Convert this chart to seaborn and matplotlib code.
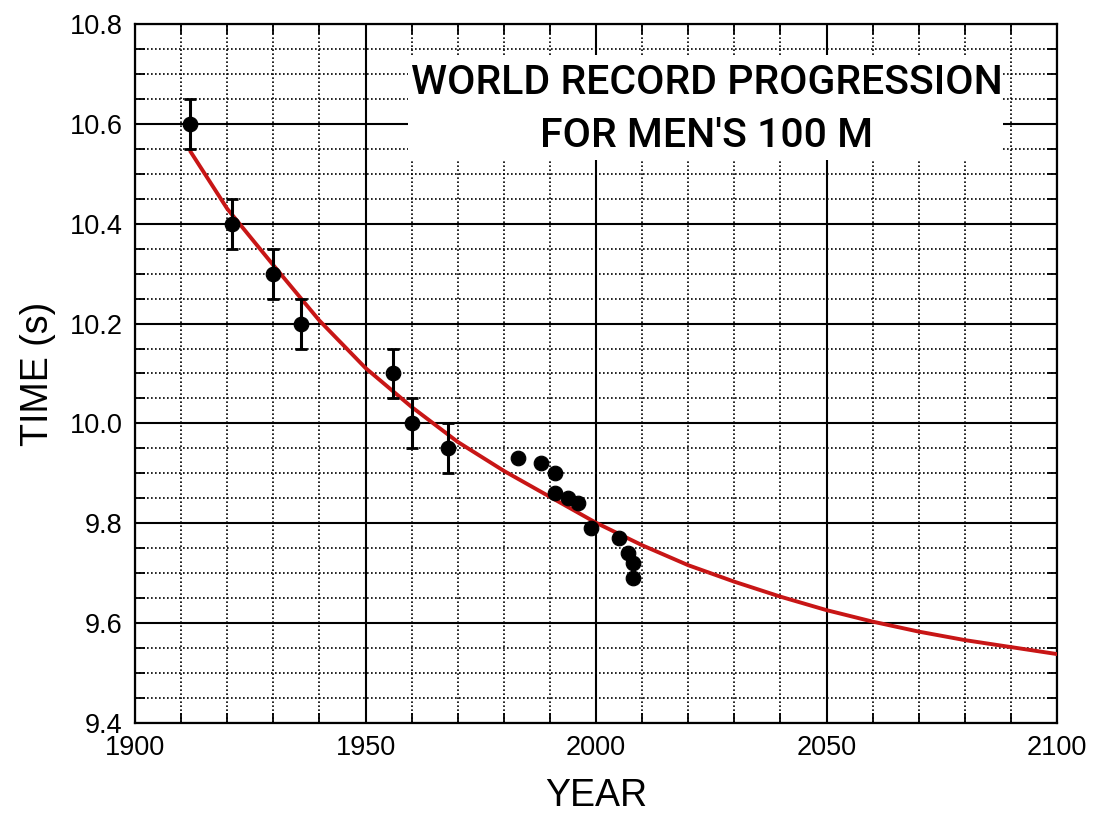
import seaborn as sns
import matplotlib.pyplot as plt
from matplotlib.ticker import MultipleLocator, FormatStrFormatter
from matplotlib.patches import Rectangle
import pandas as pd

# Record times with error bars (hand timed era)
early_years = [1912, 1921, 1930, 1936, 1956, 1960, 1968]
early_times = [10.60, 10.40, 10.30, 10.20, 10.10, 10.00, 9.95]
early_err = [0.05, 0.05, 0.05, 0.05, 0.05, 0.05, 0.05]

# Electronic timing era
late_years = [1983, 1988, 1991, 1991, 1994, 1996, 1999, 2005, 2007, 2008, 2008]
late_times = [9.93, 9.92, 9.90, 9.86, 9.85, 9.84, 9.79, 9.77, 9.74, 9.72, 9.69]

# Fitted curve
fit_years = [1912, 1920, 1930, 1940, 1950, 1960, 1970, 1980, 1990, 2000,
             2010, 2020, 2030, 2040, 2050, 2060, 2070, 2080, 2090, 2100]
fit_times = [10.545, 10.43, 10.317, 10.206, 10.111, 10.033, 9.963, 9.905, 9.853, 9.801,
             9.756, 9.716, 9.683, 9.653, 9.626, 9.603, 9.583, 9.566, 9.552, 9.538]

sns.set_style("ticks")
plt.rcParams['font.family'] = ['Liberation Sans', 'DejaVu Sans']
plt.rcParams.update({"text.color": "black", "axes.labelcolor": "black",
                     "xtick.color": "black", "ytick.color": "black"})

fig = plt.figure(figsize=(10.94, 8.16), dpi=100)
ax = fig.add_axes([0.1234, 0.114, 0.8428, 0.8566])

fit = pd.DataFrame({"year": fit_years, "time": fit_times})
sns.lineplot(data=fit, x="year", y="time", color="#c81616", linewidth=2.8, ax=ax, zorder=3)

ax.errorbar(early_years, early_times, yerr=early_err, fmt="none", ecolor="black",
            elinewidth=2.2, capsize=4, capthick=2, zorder=4)
sns.scatterplot(x=early_years, y=early_times, color="black", s=110, marker="o",
                edgecolor="black", ax=ax, zorder=5)
sns.scatterplot(x=late_years, y=late_times, color="black", s=110, marker="o",
                edgecolor="black", ax=ax, zorder=5)

ax.set_xlim(1900, 2100)
ax.set_ylim(9.4, 10.8)
ax.xaxis.set_major_locator(MultipleLocator(50))
ax.xaxis.set_minor_locator(MultipleLocator(10))
ax.yaxis.set_major_locator(MultipleLocator(0.2))
ax.yaxis.set_minor_locator(MultipleLocator(0.05))
ax.yaxis.set_major_formatter(FormatStrFormatter('%.1f'))

ax.set_axisbelow(True)
ax.grid(which="major", color="black", linewidth=1.5, linestyle="-")
ax.grid(which="minor", color="black", linewidth=1.2, linestyle=(0, (1, 1.4)))

ax.tick_params(which="both", direction="in", top=True, right=True,
               length=7, width=1.3, color="black")
ax.tick_params(which="major", labelsize=19.5, pad=9)
for s in ax.spines.values():
    s.set_linewidth(1.6)
    s.set_color("black")

ax.set_xlabel("YEAR", fontsize=27, labelpad=12)
ax.set_ylabel("TIME (s)", fontsize=27, labelpad=10)

# title box inside the plot, hiding the grid
ax.add_patch(Rectangle((0.296, 0.805), 0.645, 0.151, transform=ax.transAxes,
                       facecolor="white", edgecolor="none", zorder=1))
title_font = ['Roboto', 'Liberation Sans', 'DejaVu Sans']
ax.text(0.62, 0.915, "WORLD RECORD PROGRESSION", transform=ax.transAxes,
        ha="center", va="center", fontsize=29.5, fontweight="medium",
        family=title_font, zorder=2)
ax.text(0.62, 0.840, "FOR MEN'S 100 M", transform=ax.transAxes,
        ha="center", va="center", fontsize=29.5, fontweight="medium",
        family=title_font, zorder=2)

fig.savefig("out.png", dpi=100)
